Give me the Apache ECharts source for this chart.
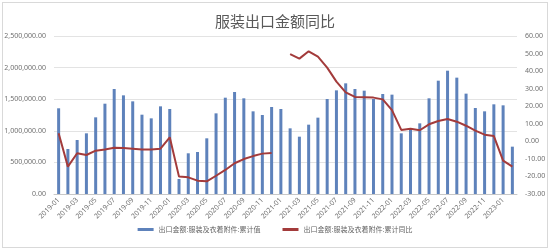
<!DOCTYPE html>
<html><head><meta charset="utf-8">
<script src="https://cdn.jsdelivr.net/npm/echarts@6/dist/echarts.min.js"></script>
<style>html,body{margin:0;padding:0;background:#fff}
#frame{position:absolute;left:2px;top:2px;width:544px;height:244px;border:1px solid #d9d9d9;}
#c{width:550px;height:250px;position:absolute;left:0;top:0}</style>
</head><body><div id="frame"></div><div id="c"></div>
<script>
const categories = [];
for (let y = 2019; y <= 2023; y++) for (let m = 1; m <= 12; m++) {
  if (y === 2023 && m > 2) break;
  categories.push(y + '-' + String(m).padStart(2, '0'));
}
const cumValue = [
  1356000, 712000, 854000, 960000, 1213000, 1429000, 1661000, 1561000, 1466000, 1255000, 1197000, 1387000,
  1345000, 237000, 644000, 665000, 881000, 1276000, 1524000, 1614000, 1514000, 1308000, 1250000, 1377000,
  1345000, 1039000, 907000, 1097000, 1208000, 1503000, 1640000, 1751000, 1661000, 1635000, 1503000, 1582000,
  1572000, 960000, 1013000, 1118000, 1514000, 1793000, 1951000, 1841000, 1588000, 1361000, 1308000, 1419000,
  1403000, 749000
];
const cumYoY = [
  4.6, -14.4, -6.8, -7.8, -5.3, -4.6, -3.6, -3.8, -4.2, -4.6, -4.6, -4.2,
  2.3, -20.1, -20.5, -22.4, -22.8, -19.6, -16.3, -12.5, -10.1, -8.4, -7.0, -6.6,
  null, 49.7, 47.1, 51.3, 48.2, 42.0, 34.0, 27.9, 25.3, 25.1, 24.9, 23.9,
  17.8, 6.5, 7.2, 6.3, 9.7, 11.6, 12.7, 11.2, 8.9, 6.1, 3.8, 3.0,
  -11.0, -14.4
];
const seriesNames = ['出口金额:服装及衣着附件:累计值', '出口金额:服装及衣着附件:累计同比'];
const chart = echarts.init(document.getElementById('c'));
const fmt2 = v => Number(v).toLocaleString('en-US', {minimumFractionDigits: 2, maximumFractionDigits: 2});
chart.setOption({
  animation: false,
  title: {text: '服装出口金额同比', left: 'center', top: 9,
    textStyle: {fontFamily: 'Noto Sans CJK SC', fontSize: 15, fontWeight: 'normal', color: '#595959'}},
  grid: {left: 54, right: 33, top: 36, bottom: 56},
  legend: {bottom: 12, left: 'center', itemGap: 22, itemWidth: 16, itemHeight: 3,
    textStyle: {fontFamily: 'Noto Sans CJK SC', fontSize: 7, color: '#666666'},
    data: [{name: seriesNames[0], icon: 'rect'}, {name: seriesNames[1], icon: 'rect'}]},
  xAxis: {type: 'category', data: categories,
    axisLine: {lineStyle: {color: '#c8c8c8'}}, axisTick: {show: false},
    axisLabel: {interval: 1, rotate: 45, fontSize: 7, color: '#707070', margin: 5, fontFamily: 'Noto Sans'}},
  yAxis: [
    {type: 'value', min: 0, max: 2500000, interval: 500000,
      axisLabel: {formatter: fmt2, fontSize: 7, color: '#707070', fontFamily: 'Noto Sans'},
      splitLine: {lineStyle: {color: '#e3e3e3'}}},
    {type: 'value', min: -30, max: 60, interval: 10,
      axisLabel: {formatter: fmt2, fontSize: 7, color: '#707070', fontFamily: 'Noto Sans'},
      splitLine: {show: false}}
  ],
  series: [
    {name: seriesNames[0], type: 'bar', data: cumValue, barWidth: 3, yAxisIndex: 0,
      itemStyle: {color: '#5e82bb'}},
    {name: seriesNames[1], type: 'line', data: cumYoY, yAxisIndex: 1, showSymbol: false,
      connectNulls: false, lineStyle: {color: '#a33b3b', width: 2}, itemStyle: {color: '#a33b3b'}}
  ]
});
</script></body></html>
